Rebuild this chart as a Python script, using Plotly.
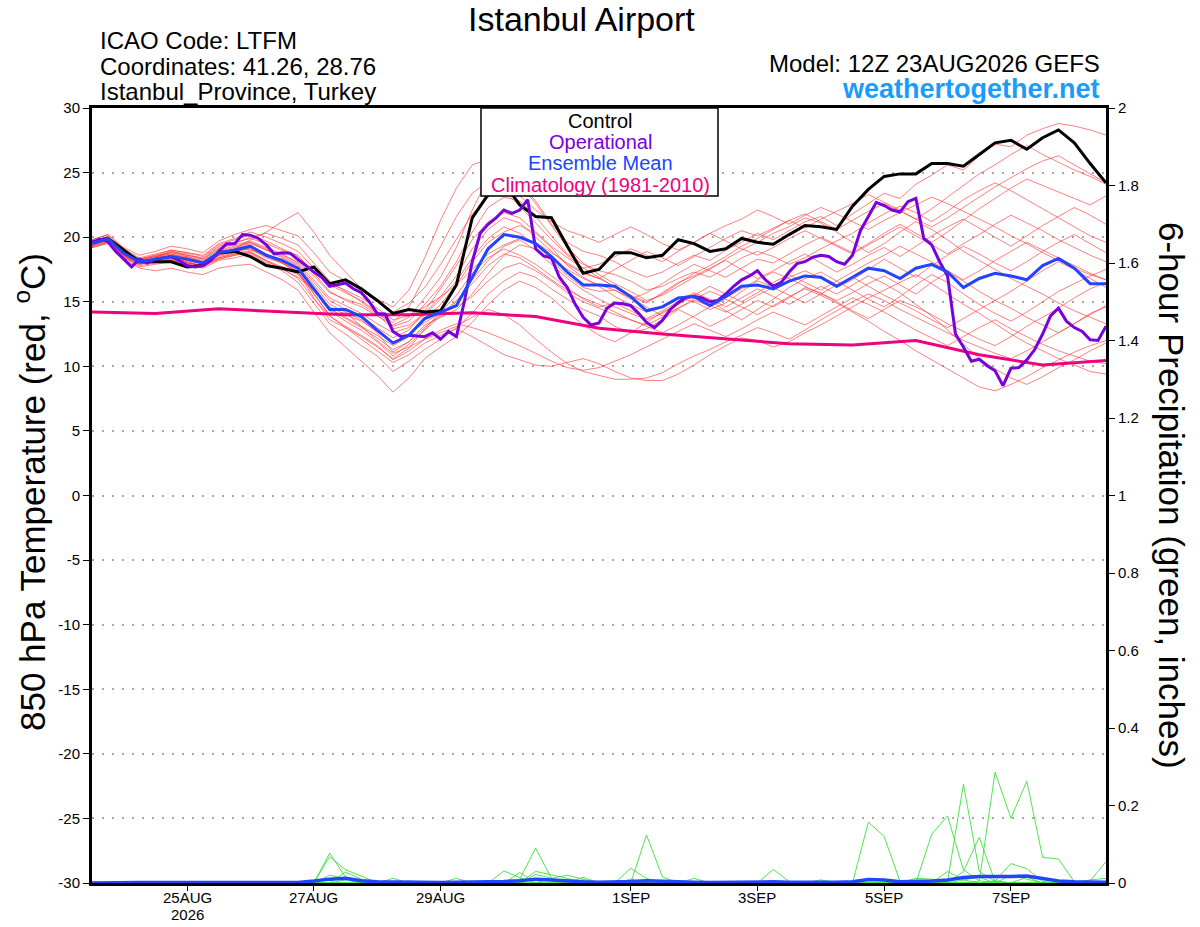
import plotly.graph_objects as go
import pandas as pd

# ---------------- time axes ----------------
RUN_START = "2026-08-23 12:00"
RANGE_END = "2026-09-08 12:00"
times_6h = pd.date_range(RUN_START, periods=65, freq="6h")
times_3h = pd.date_range(RUN_START, periods=129, freq="3h")
times_clim = pd.date_range(RUN_START, periods=17, freq="24h")

tick_dates = ["2026-08-25", "2026-08-27", "2026-08-29", "2026-09-01",
              "2026-09-03", "2026-09-05", "2026-09-07"]
tick_labels = ["25AUG", "27AUG", "29AUG", "1SEP", "3SEP", "5SEP", "7SEP"]
year_label = "2026"

temp_ticks = [-30, -25, -20, -15, -10, -5, 0, 5, 10, 15, 20, 25, 30]
temp_tick_labels = ["-30", "-25", "-20", "-15", "-10", "-5", "0", "5", "10", "15", "20", "25", "30"]
precip_ticks = [0, 0.2, 0.4, 0.6, 0.8, 1.0, 1.2, 1.4, 1.6, 1.8, 2.0]
precip_tick_labels = ["0", "0.2", "0.4", "0.6", "0.8", "1", "1.2", "1.4", "1.6", "1.8", "2"]

# ---------------- 850 hPa temperature (6-hourly) ----------------
control = [19.6, 19.9, 19.0, 18.1, 18.1, 18.1, 17.7, 17.8, 18.8, 18.9, 18.5, 17.8, 17.6, 17.3,
           17.7, 16.4, 16.7, 16.0, 15.1, 14.1, 14.4, 14.2, 14.3, 16.3, 21.5, 23.3, 24.2, 22.5,
           21.6, 21.5, 19.3, 17.2, 17.5, 18.8, 18.8, 18.4, 18.6, 19.8, 19.5, 18.9, 19.1, 19.9,
           19.6, 19.45, 20.2, 20.9, 20.8, 20.6, 22.4, 23.7, 24.7, 24.9, 24.9, 25.7, 25.7, 25.5,
           26.4, 27.3, 27.5, 26.8, 27.7, 28.3, 27.3, 25.7, 24.2]

ens_mean = [19.5, 19.9, 18.75, 18.1, 18.3, 18.5, 18.3, 18.0, 18.8, 19.0, 19.3, 18.6, 18.2, 17.6,
            16.0, 14.4, 14.4, 13.85, 12.8, 11.8, 12.4, 13.7, 14.2, 14.7, 16.9, 19.1, 20.2, 20.0,
            19.5, 18.5, 17.3, 16.3, 16.3, 16.2, 15.4, 14.3, 14.6, 15.3, 15.4, 14.7, 15.4, 16.2,
            16.3, 16.0, 16.6, 17.0, 16.9, 16.2, 16.9, 17.6, 17.4, 16.8, 17.6, 17.9, 17.3, 16.1,
            16.8, 17.2, 17.0, 16.7, 17.8, 18.35, 17.6, 16.4, 16.4]

# operational run (3-hourly)
operational = [19.6, 19.85, 19.65, 18.9, 18.3, 17.7, 18.3, 18.0, 18.3, 18.4, 18.5, 18.2, 17.8,
               17.7, 17.8, 18.2, 18.9, 19.5, 19.5, 20.2, 20.15, 19.9, 19.4, 18.7, 18.8, 18.75,
               18.3, 17.8, 17.3, 16.9, 16.2, 16.3, 16.45, 16.0, 15.7, 15.0, 14.1, 14.05, 12.7,
               12.3, 12.4, 12.35, 12.3, 12.6, 12.1, 12.7, 12.3, 15.0, 18.1, 20.3, 21.0, 21.5,
               22.1, 21.85, 22.1, 22.9, 19.1, 18.55, 18.4, 16.9, 16.1, 14.8, 13.8, 13.2, 13.35,
               14.5, 14.9, 14.85, 14.7, 14.1, 13.4, 13.0, 13.55, 14.4, 14.95, 15.35, 15.4, 15.3,
               15.0, 15.1, 15.6, 16.2, 16.7, 17.0, 17.4, 16.7, 16.2, 16.5, 17.3, 17.95, 18.1,
               18.45, 18.6, 18.5, 18.1, 17.9, 18.6, 20.5, 21.6, 22.7, 22.45, 22.1, 21.95, 22.75,
               23.0, 19.9, 19.4, 18.1, 17.0, 12.5, 11.5, 10.4, 10.55, 10.05, 9.65, 8.5, 9.85,
               9.9, 10.5, 11.3, 12.5, 13.9, 14.5, 13.5, 13.0, 12.7, 12.05, 12.0, 13.1]

# climatology (daily)
climatology = [14.2, 14.1, 14.45, 14.2, 14.0, 14.0, 14.15, 13.85, 12.95, 12.5, 12.1, 11.75,
               11.65, 12.0, 10.9, 10.1, 10.45]

# ensemble members (6-hourly)
member_01 = [19.3, 19.8, 18.5, 18.0, 18.4, 18.9, 18.6, 18.4, 19.3, 19.6, 19.9, 19.5, 19.0, 18.6,
             17.2, 15.8, 15.1, 14.6, 13.9, 13.2, 13.8, 15.3, 16.9, 19.2,
             22.1, 24.6, 25.3, 24.2, 22.8, 21.0, 19.6, 18.9,
             18.6, 18.1, 17.4, 16.9, 17.3, 18.0, 18.6, 18.2, 19.0, 19.6, 20.3, 19.8, 20.5, 21.2, 21.6, 20.9,
             21.8, 22.6, 23.4, 23.0, 24.1, 24.8, 25.6, 25.2, 26.3, 27.2, 27.0, 27.9, 28.4, 28.8, 28.6, 28.3, 27.9]
member_02 = [19.6, 20.1, 19.0, 18.3, 18.1, 18.2, 18.0, 17.8, 18.6, 19.1, 19.8, 20.4, 21.2, 21.9,
             20.4, 18.6, 17.3, 16.0, 15.2, 14.6, 15.9, 18.4, 21.3, 23.8,
             25.6, 26.0, 25.4, 24.1, 22.6, 20.9, 19.2, 18.0,
             17.1, 16.4, 15.8, 15.1, 15.5, 16.2, 16.9, 17.5, 18.3, 19.0, 19.6, 20.3, 20.8, 21.5, 21.1, 20.4,
             19.6, 18.8, 19.5, 20.4, 21.2, 20.6, 19.8, 18.9, 18.2, 17.5, 16.8, 16.2, 15.6, 14.9, 14.3, 13.8, 13.3]
member_03 = [19.2, 19.5, 18.3, 17.6, 17.4, 17.6, 17.3, 17.1, 17.6, 17.8, 17.9, 17.3, 16.7, 15.9,
             14.2, 12.6, 11.5, 10.4, 9.3, 8.0, 9.1, 10.6, 11.5, 12.3,
             13.4, 14.8, 15.9, 16.6, 16.1, 15.3, 14.2, 13.2,
             12.4, 11.9, 12.6, 13.4, 14.2, 14.8, 15.6, 15.1, 14.3, 13.6, 14.4, 15.2, 16.1, 16.8, 17.3, 16.6,
             15.9, 15.2, 14.6, 15.4, 16.3, 17.1, 16.5, 15.6, 14.8, 14.1, 13.5, 14.2, 15.0, 15.8, 16.4, 17.0, 17.5]
member_04 = [19.7, 19.9, 18.9, 18.3, 18.6, 18.8, 18.5, 18.1, 18.9, 19.2, 19.6, 19.0, 18.4, 17.8,
             16.3, 14.8, 14.2, 13.1, 12.0, 11.0, 11.5, 12.1, 12.6, 13.1,
             13.8, 14.4, 14.0, 13.2, 12.1, 11.1, 10.2, 9.6,
             9.3, 9.0, 9.0, 9.1, 9.5, 10.2, 10.8, 11.3, 11.9, 12.4, 13.0, 12.6, 12.1, 12.8, 13.6, 14.3,
             15.0, 15.6, 15.1, 14.4, 13.8, 13.2, 12.6, 12.0, 11.5, 11.0, 10.6, 11.2, 11.9, 12.6, 13.3, 14.0, 14.7]
member_05 = [19.4, 19.6, 18.6, 18.2, 18.5, 18.7, 18.3, 17.9, 18.4, 18.7, 19.0, 18.6, 18.1, 17.4,
             15.6, 13.9, 13.0, 12.1, 11.2, 10.3, 10.9, 11.8, 12.4, 12.9,
             12.3, 11.6, 10.9, 10.5, 10.1, 10.0, 10.3, 10.6,
             10.2, 9.6, 9.1, 8.9, 8.9, 9.4, 10.1, 10.9, 11.6, 12.2, 12.0, 11.5, 11.9, 12.6, 13.2, 13.9,
             14.6, 15.3, 15.9, 16.5, 17.1, 16.4, 15.6, 14.8, 14.1, 13.3, 12.5, 11.8, 11.2, 10.6, 10.1, 9.6, 9.4]
member_06 = [19.8, 20.2, 19.1, 18.4, 18.7, 19.0, 18.8, 18.5, 19.4, 19.8, 20.2, 19.7, 19.1, 18.5,
             17.4, 16.3, 15.7, 15.1, 14.2, 13.1, 13.5, 14.8, 16.2, 18.1,
             20.4, 22.3, 23.1, 22.8, 21.6, 20.1, 18.7, 17.9,
             17.4, 17.1, 16.6, 15.9, 16.2, 16.8, 17.3, 16.9, 17.6, 18.4, 18.9, 18.5, 17.9, 18.4, 19.1, 19.7,
             20.3, 21.1, 21.8, 22.4, 21.9, 21.2, 22.0, 22.9, 23.6, 24.2, 23.6, 22.9, 22.2, 21.5, 20.8, 20.1, 19.6]
member_07 = [19.5, 19.7, 18.4, 17.9, 18.2, 18.4, 18.1, 17.7, 18.3, 18.6, 18.9, 18.2, 17.5, 16.9,
             15.9, 14.4, 13.8, 13.1, 12.4, 11.6, 12.3, 13.6, 14.8, 16.3,
             18.1, 19.6, 20.4, 20.9, 20.3, 19.2, 17.8, 16.9,
             16.2, 15.4, 14.8, 14.2, 14.6, 15.3, 15.0, 14.4, 14.9, 15.8, 16.6, 16.2, 16.9, 17.4, 16.8, 16.1,
             16.7, 17.5, 18.3, 17.6, 16.9, 17.8, 18.6, 19.3, 18.7, 18.0, 17.4, 18.1, 18.9, 19.6, 20.2, 19.5, 18.8]
member_08 = [19.3, 19.9, 18.8, 18.0, 18.2, 18.3, 18.2, 18.0, 18.9, 19.0, 19.1, 18.4, 18.0, 17.3,
             15.6, 14.0, 14.2, 13.6, 12.6, 11.1, 11.9, 13.2, 13.8, 14.4,
             15.6, 17.2, 18.6, 19.4, 19.1, 18.2, 17.0, 16.1,
             15.8, 15.9, 15.3, 14.6, 13.9, 14.5, 15.2, 15.8, 15.3, 16.0, 16.7, 17.3, 16.8, 16.2, 15.6, 15.1,
             15.7, 16.4, 17.0, 16.3, 15.6, 16.5, 17.3, 16.6, 15.8, 15.1, 15.8, 16.6, 17.4, 18.1, 17.5, 16.8, 16.1]
member_09 = [19.6, 20.0, 18.9, 18.2, 18.3, 18.6, 18.5, 18.2, 19.0, 19.3, 19.6, 19.1, 18.5, 17.9,
             16.5, 15.1, 14.4, 13.9, 13.0, 12.2, 12.8, 14.3, 16.0, 17.8,
             19.8, 21.2, 21.9, 21.5, 20.4, 19.3, 18.4, 17.6,
             17.9, 18.5, 19.1, 18.6, 18.1, 18.9, 19.6, 20.3, 20.9, 21.4, 22.1, 21.6, 21.0, 21.7, 22.3, 21.8,
             21.2, 20.6, 21.3, 21.9, 22.5, 23.1, 22.6, 22.0, 21.4, 20.8, 20.1, 19.5, 18.8, 18.2, 17.6, 17.1, 16.7]
member_10 = [19.4, 19.8, 18.6, 17.9, 18.1, 18.3, 18.0, 17.8, 18.5, 18.8, 19.2, 18.6, 18.0, 17.3,
             15.3, 13.6, 13.0, 12.3, 11.5, 10.6, 11.4, 12.9, 14.2, 15.5,
             17.2, 18.4, 19.1, 18.6, 17.9, 17.0, 16.1, 15.2,
             14.6, 14.9, 14.3, 13.7, 14.3, 15.0, 15.7, 15.2, 14.6, 15.3, 16.0, 15.4, 14.8, 15.5, 16.2, 15.6,
             16.3, 17.0, 16.4, 15.7, 14.8, 13.9, 12.8, 11.7, 10.6, 9.8, 9.1, 8.6, 9.2, 9.9, 10.5, 11.2, 11.8]
member_11 = [19.5, 19.9, 18.7, 18.1, 18.4, 18.7, 18.4, 18.1, 18.7, 19.1, 19.5, 19.0, 18.6, 18.1,
             17.0, 15.7, 15.2, 14.8, 14.0, 12.9, 13.2, 14.1, 15.4, 17.0,
             19.1, 20.6, 21.5, 21.1, 20.0, 18.9, 17.9, 17.2,
             16.8, 16.2, 15.5, 15.0, 15.6, 16.4, 17.2, 17.8, 18.5, 19.3, 19.9, 20.6, 21.3, 20.7, 21.4, 22.0,
             22.6, 23.3, 22.7, 22.1, 21.4, 22.2, 23.1, 24.0, 24.9, 25.6, 26.4, 27.1, 26.4, 25.8, 25.2, 24.7, 24.1]
member_12 = [19.2, 19.6, 18.4, 17.7, 17.9, 18.1, 17.9, 17.6, 18.2, 18.4, 18.7, 18.0, 17.4, 16.5,
             14.9, 13.3, 12.5, 11.6, 10.8, 9.6, 10.4, 11.3, 12.1, 13.0,
             14.1, 15.6, 16.6, 17.3, 16.9, 16.0, 15.2, 14.4,
             13.9, 13.1, 12.6, 12.9, 13.6, 14.4, 13.8, 13.1, 13.7, 14.4, 15.1, 14.6, 15.3, 16.1, 15.7, 15.0,
             14.3, 13.7, 14.4, 15.1, 14.6, 14.0, 13.3, 12.7, 12.1, 11.6, 12.3, 13.1, 13.8, 14.5, 15.3, 16.0, 16.5]
member_13 = [19.7, 20.0, 18.9, 18.3, 18.5, 18.9, 18.7, 18.3, 19.1, 19.5, 20.0, 20.3, 19.9, 19.4,
             18.0, 16.6, 15.8, 15.0, 14.1, 13.4, 14.6, 16.9, 19.3, 21.6,
             23.4, 24.3, 23.6, 22.4, 21.1, 19.8, 18.6, 17.6,
             16.9, 16.1, 15.4, 14.9, 15.7, 16.5, 17.0, 17.6, 18.2, 17.5, 16.8, 17.4, 18.1, 18.7, 18.0, 17.3,
             17.9, 18.6, 19.2, 18.5, 19.3, 20.1, 20.8, 21.4, 20.7, 20.0, 19.3, 20.1, 20.9, 21.6, 22.3, 21.7, 21.0]
member_14 = [19.5, 19.8, 18.6, 18.0, 18.3, 18.5, 18.2, 17.9, 18.6, 18.9, 19.1, 18.5, 18.0, 17.2,
             15.8, 14.6, 14.0, 13.5, 12.7, 11.8, 12.5, 13.4, 14.1, 14.6,
             15.4, 16.6, 17.6, 18.0, 17.4, 16.6, 15.7, 15.0,
             14.5, 14.0, 13.6, 13.2, 13.8, 14.5, 15.1, 14.7, 14.2, 14.8, 15.5, 16.1, 15.5, 14.9, 15.6, 16.3,
             16.9, 16.2, 15.5, 14.9, 14.3, 13.6, 13.0, 13.7, 14.4, 15.1, 14.5, 13.8, 13.2, 12.6, 13.3, 14.1, 14.6]
member_15 = [19.6, 20.0, 18.8, 18.2, 18.5, 18.8, 18.6, 18.3, 19.2, 19.4, 19.7, 19.2, 18.7, 18.0,
             16.7, 15.3, 14.7, 14.1, 13.3, 12.6, 13.0, 14.0, 15.2, 16.6,
             18.4, 19.9, 20.8, 20.3, 19.4, 18.3, 17.5, 16.8,
             16.3, 15.9, 15.2, 15.7, 16.4, 17.2, 17.9, 17.4, 16.9, 17.6, 18.3, 18.0, 18.7, 19.4, 20.0, 19.4,
             18.8, 19.5, 20.3, 21.0, 20.3, 19.6, 20.4, 21.3, 22.2, 23.0, 23.8, 24.5, 24.0, 23.5, 23.0, 22.5, 23.2]
member_16 = [19.3, 19.7, 18.5, 17.8, 18.0, 18.2, 18.0, 17.7, 18.4, 18.7, 18.8, 18.2, 17.7, 17.1,
             15.9, 14.3, 13.5, 12.8, 11.9, 10.8, 11.7, 12.8, 13.9, 15.0,
             16.7, 18.2, 19.3, 19.8, 19.0, 17.9, 16.8, 15.9,
             15.2, 14.6, 14.1, 13.6, 14.1, 14.8, 15.5, 16.2, 15.6, 15.0, 15.7, 16.5, 17.1, 16.5, 15.9, 16.6,
             17.3, 18.0, 18.6, 19.3, 18.7, 18.1, 17.4, 16.7, 17.4, 18.2, 18.9, 19.6, 19.0, 18.4, 17.8, 17.2, 16.7]
member_17 = [19.4, 19.8, 18.7, 18.1, 18.3, 18.5, 18.4, 18.0, 18.6, 18.9, 19.3, 18.7, 18.1, 17.5,
             16.1, 14.5, 13.7, 13.0, 12.2, 11.3, 11.9, 13.0, 14.0, 15.1,
             16.4, 17.8, 18.7, 18.4, 17.6, 16.7, 15.9, 15.3,
             14.8, 14.2, 13.6, 13.1, 12.6, 13.2, 13.9, 14.6, 15.2, 14.6, 14.0, 14.7, 15.4, 16.0, 15.5, 14.9,
             14.2, 13.5, 12.7, 12.0, 11.2, 10.5, 9.8, 9.1, 8.4, 8.1, 8.6, 9.2, 9.9, 10.5, 11.1, 11.6, 12.0]
member_18 = [19.6, 19.9, 18.8, 18.3, 18.6, 19.0, 18.8, 18.6, 19.5, 19.9, 20.4, 20.0, 19.5, 18.9,
             17.6, 16.4, 15.9, 15.3, 14.5, 13.6, 13.9, 14.6, 15.4, 16.3,
             17.5, 18.7, 19.4, 19.9, 19.6, 18.8, 18.0, 17.3,
             16.8, 17.5, 18.2, 18.9, 18.4, 17.8, 18.5, 19.2, 19.9, 20.5, 20.1, 20.7, 21.3, 21.8, 21.2, 20.6,
             21.3, 22.0, 22.6, 22.0, 21.4, 20.8, 21.5, 22.3, 23.1, 23.9, 24.6, 25.3, 25.9, 26.3, 25.6, 24.9, 24.2]
member_19 = [19.2, 19.6, 18.5, 17.9, 18.2, 18.4, 18.1, 17.8, 18.3, 18.6, 18.8, 18.1, 17.6, 16.8,
             15.2, 13.9, 13.1, 12.4, 11.6, 10.5, 11.2, 12.1, 12.8, 13.3,
             13.0, 12.6, 12.1, 11.6, 11.0, 10.4, 9.9, 9.7,
             9.9, 10.4, 10.9, 11.5, 12.1, 12.7, 13.3, 12.8, 12.3, 12.9, 13.6, 14.2, 13.7, 13.2, 13.9, 14.6,
             15.3, 14.8, 14.2, 13.5, 12.8, 12.2, 11.6, 12.3, 13.0, 13.6, 12.9, 12.3, 11.7, 11.2, 10.8, 10.4, 10.2]
member_20 = [19.8, 20.2, 19.2, 18.6, 18.9, 19.3, 19.1, 18.8, 19.7, 20.2, 20.6, 20.9, 20.5, 20.1,
             18.8, 17.3, 16.6, 15.9, 15.0, 14.2, 14.9, 16.1, 17.9, 19.9,
             21.8, 23.1, 23.9, 23.2, 22.1, 21.2, 20.5, 20.1,
             19.6, 20.2, 20.8, 20.2, 19.5, 19.0, 19.6, 20.3, 19.7, 19.1, 18.6, 19.2, 19.9, 20.5, 19.9, 19.3,
             18.7, 19.4, 20.1, 20.8, 20.1, 19.4, 18.7, 19.5, 20.2, 21.0, 21.7, 21.1, 20.5, 19.8, 19.2, 18.6, 18.1]

members = [member_01, member_02, member_03, member_04, member_05, member_06, member_07,
           member_08, member_09, member_10, member_11, member_12, member_13, member_14,
           member_15, member_16, member_17, member_18, member_19, member_20]

# ---------------- 6-hour precipitation (inches) ----------------
precip_01 = [0, 0, 0, 0, 0, 0, 0, 0, 0, 0,
             0, 0, 0, 0, 0, 0.077, 0.015, 0, 0, 0,
             0, 0, 0, 0, 0, 0, 0, 0.01, 0.09, 0.012,
             0, 0, 0, 0, 0, 0.124, 0.016, 0, 0, 0,
             0, 0, 0, 0, 0, 0, 0, 0, 0, 0.157,
             0.12, 0.004, 0, 0, 0, 0, 0, 0, 0, 0,
             0, 0, 0, 0, 0]
precip_02 = [0, 0, 0, 0, 0, 0, 0, 0, 0, 0,
             0, 0, 0, 0, 0, 0.068, 0.034, 0.018, 0, 0,
             0, 0, 0, 0, 0, 0, 0.031, 0.014, 0, 0,
             0, 0.015, 0, 0, 0, 0, 0, 0, 0, 0,
             0, 0, 0, 0, 0, 0, 0, 0, 0, 0,
             0, 0, 0, 0.126, 0.173, 0.034, 0.006, 0, 0, 0,
             0, 0, 0, 0, 0]
precip_03 = [0, 0, 0, 0, 0, 0, 0, 0, 0, 0,
             0, 0, 0, 0, 0, 0, 0.028, 0.01, 0, 0.012,
             0, 0, 0, 0, 0, 0, 0, 0, 0.03, 0.02,
             0.012, 0, 0, 0, 0.038, 0.012, 0, 0, 0, 0,
             0, 0, 0, 0, 0, 0, 0, 0, 0, 0,
             0, 0, 0, 0, 0.004, 0.255, 0.03, 0.004, 0, 0,
             0, 0, 0, 0, 0]
precip_04 = [0, 0, 0, 0, 0, 0, 0, 0, 0, 0,
             0, 0, 0, 0, 0, 0, 0, 0, 0, 0,
             0, 0, 0, 0.012, 0, 0, 0, 0.027, 0, 0.012,
             0.02, 0.01, 0, 0, 0, 0, 0, 0, 0, 0,
             0, 0, 0, 0.035, 0.004, 0, 0, 0, 0, 0,
             0, 0, 0, 0, 0, 0, 0.005, 0.286, 0.167, 0.263,
             0.066, 0.062, 0.003, 0, 0]
precip_05 = [0, 0, 0, 0, 0, 0, 0, 0, 0, 0,
             0, 0, 0, 0, 0, 0, 0, 0, 0, 0,
             0, 0, 0, 0, 0, 0, 0, 0, 0, 0,
             0, 0, 0, 0, 0.01, 0, 0, 0, 0.012, 0,
             0, 0, 0, 0, 0, 0, 0.008, 0, 0, 0,
             0, 0, 0.012, 0.01, 0, 0.03, 0.118, 0.003, 0, 0,
             0, 0, 0, 0, 0]
precip_06 = [0, 0, 0, 0, 0, 0, 0, 0, 0, 0,
             0, 0, 0, 0, 0, 0, 0, 0, 0, 0,
             0, 0, 0, 0, 0, 0, 0, 0, 0.022, 0.012,
             0, 0.008, 0, 0, 0, 0, 0, 0, 0, 0,
             0, 0, 0, 0, 0, 0, 0, 0, 0, 0,
             0, 0, 0.006, 0, 0.03, 0.008, 0, 0.005, 0.05, 0.037,
             0.004, 0, 0, 0.006, 0.055]
precip_07 = [0, 0, 0, 0, 0, 0, 0, 0, 0, 0,
             0, 0, 0, 0, 0, 0, 0.008, 0, 0, 0,
             0.005, 0, 0, 0, 0, 0, 0, 0, 0, 0,
             0, 0, 0, 0, 0, 0.006, 0, 0, 0, 0,
             0, 0, 0, 0, 0, 0, 0, 0, 0, 0,
             0, 0, 0, 0.004, 0, 0, 0, 0.006, 0, 0.015,
             0, 0, 0.002, 0.008, 0.012]
precip_08 = [0, 0, 0, 0, 0, 0, 0, 0, 0, 0,
             0, 0, 0, 0, 0, 0.02, 0.012, 0, 0, 0,
             0, 0, 0, 0, 0, 0, 0, 0, 0, 0,
             0, 0, 0, 0, 0.004, 0, 0, 0, 0, 0,
             0, 0, 0, 0, 0, 0, 0, 0.003, 0, 0,
             0, 0, 0, 0, 0, 0.008, 0.015, 0, 0.02, 0.01,
             0, 0, 0, 0, 0]
precip_members = [precip_01, precip_02, precip_03, precip_04,
                  precip_05, precip_06, precip_07, precip_08]

precip_mean = [0, 0.001, 0.001, 0.001, 0.001, 0.001, 0.001, 0.001, 0.001, 0.001,
               0.001, 0.001, 0.001, 0.001, 0.005, 0.01, 0.012, 0.006, 0.003, 0.002,
               0.002, 0.001, 0.001, 0.002, 0.002, 0.002, 0.004, 0.006, 0.01, 0.008,
               0.005, 0.003, 0.002, 0.002, 0.004, 0.006, 0.004, 0.002, 0.002, 0.001,
               0.002, 0.002, 0.002, 0.003, 0.002, 0.001, 0.002, 0.002, 0.003, 0.009,
               0.008, 0.003, 0.003, 0.005, 0.008, 0.014, 0.017, 0.016, 0.017, 0.018,
               0.012, 0.005, 0.003, 0.002, 0.002]

# ---------------- styling ----------------
FONT = "Liberation Sans, Arial, Helvetica, sans-serif"
C_MEMBER = "rgba(255,55,55,0.8)"
C_PRECIP = "rgb(60,225,60)"
C_CONTROL = "#000000"
C_OPER = "#7a00dc"
C_MEAN = "#2244ff"
C_CLIM = "#f0007f"

# plot area in pixels (for placing header text)
W, H = 1200, 927
L, R, T, B = 92, 1106, 108, 883


def px(x):
    return (x - L) / (R - L)


def py(y):
    return (B - y) / (B - T)


fig = go.Figure()

for m in members:
    fig.add_trace(go.Scatter(x=times_6h, y=m, mode="lines",
                             line=dict(color=C_MEMBER, width=0.8), hoverinfo="skip"))

for p in precip_members:
    fig.add_trace(go.Scatter(x=times_6h, y=p, mode="lines", yaxis="y2",
                             line=dict(color=C_PRECIP, width=0.9), hoverinfo="skip"))

fig.add_trace(go.Scatter(x=times_clim, y=climatology, mode="lines",
                         line=dict(color=C_CLIM, width=3)))
fig.add_trace(go.Scatter(x=times_6h, y=control, mode="lines",
                         line=dict(color=C_CONTROL, width=3)))
fig.add_trace(go.Scatter(x=times_3h, y=operational, mode="lines",
                         line=dict(color=C_OPER, width=3)))
fig.add_trace(go.Scatter(x=times_6h, y=ens_mean, mode="lines",
                         line=dict(color=C_MEAN, width=3)))
fig.add_trace(go.Scatter(x=times_6h, y=precip_mean, mode="lines", yaxis="y2",
                         line=dict(color=C_MEAN, width=3.5)))

annotations = []


def text(x, y, s, size, color="black", xanchor="left", bold=False, angle=0):
    if bold:
        s = "<b>" + s + "</b>"
    annotations.append(dict(x=px(x), y=py(y), xref="paper", yref="paper", text=s,
                            showarrow=False, xanchor=xanchor, yanchor="middle",
                            textangle=angle,
                            font=dict(family=FONT, size=size, color=color)))


text(581, 19, "Istanbul Airport", 34, xanchor="center")
text(98, 40, "ICAO Code: LTFM", 24)
text(98, 66, "Coordinates: 41.26, 28.76", 24)
text(98, 92, "Istanbul_Province, Turkey", 24)
text(1102, 64, "Model: 12Z 23AUG2026 GEFS", 24, xanchor="right")
text(1102, 89, "weathertogether.net", 27, color="#1a9cff", xanchor="right", bold=True)

# legend box contents
text(600, 121, "Control", 20, color=C_CONTROL, xanchor="center")
text(600, 142, "Operational", 20, color=C_OPER, xanchor="center")
text(600, 163, "Ensemble Mean", 20, color=C_MEAN, xanchor="center")
text(600, 185, "Climatology (1981-2010)", 20, color=C_CLIM, xanchor="center")

# axis titles
text(30, 492, "850 hPa Temperature (red, <sup>o</sup>C)", 35, xanchor="center", angle=-90)
text(1172, 495, "6-hour Precipitation (green, inches)", 35, xanchor="center", angle=90)

# date tick labels (placed on the x data scale)
for d, lab in zip(tick_dates, tick_labels):
    annotations.append(dict(x=d, y=py(897), xref="x", yref="paper", text=lab,
                            showarrow=False, xanchor="center", yanchor="middle",
                            font=dict(family=FONT, size=15, color="black")))
annotations.append(dict(x=tick_dates[0], y=py(914), xref="x", yref="paper", text=year_label,
                        showarrow=False, xanchor="center", yanchor="middle",
                        font=dict(family=FONT, size=15, color="black")))

shapes = [dict(type="rect", xref="paper", yref="paper",
               x0=px(481), x1=px(718), y0=py(196), y1=py(T),
               line=dict(color="black", width=1.5), fillcolor="white", layer="above")]

fig.update_layout(
    width=W, height=H,
    margin=dict(l=L, r=W - R, t=T, b=H - B, pad=0, autoexpand=False),
    paper_bgcolor="white", plot_bgcolor="white",
    showlegend=False,
    font=dict(family=FONT, color="black"),
    annotations=annotations,
    shapes=shapes,
    xaxis=dict(type="date", range=[RUN_START, RANGE_END], automargin=False,
               tickvals=tick_dates, showticklabels=False,
               ticks="outside", ticklen=5, tickwidth=1, tickcolor="black",
               showline=True, linewidth=3, linecolor="black", mirror=True,
               showgrid=False, zeroline=False),
    yaxis=dict(range=[-30, 30], tickvals=temp_ticks, ticktext=temp_tick_labels,
               automargin=False,
               ticks="outside", ticklen=6, tickwidth=1, tickcolor="black",
               showline=True, linewidth=3, linecolor="black", mirror=True,
               showgrid=True, gridcolor="#a8a8a8", gridwidth=1.5, griddash="2px,8px",
               zeroline=False,
               tickfont=dict(family=FONT, size=15, color="black")),
    yaxis2=dict(range=[0, 2], overlaying="y", side="right", automargin=False,
                tickvals=precip_ticks, ticktext=precip_tick_labels,
                ticks="outside", ticklen=6, tickwidth=1, tickcolor="black",
                showline=True, linewidth=3, linecolor="black",
                showgrid=False, zeroline=False,
                tickfont=dict(family=FONT, size=15, color="black")),
)

fig.write_html("out.html", config={"displayModeBar": False},
               post_script="document.body.style.margin='0px';document.body.style.overflow='hidden';")
